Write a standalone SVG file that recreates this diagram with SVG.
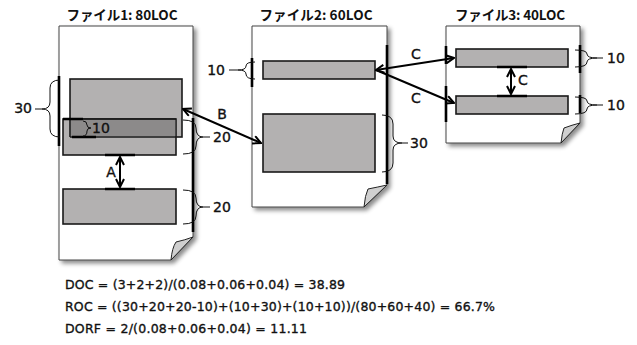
<svg xmlns="http://www.w3.org/2000/svg" width="637" height="345" viewBox="0 0 637 345">
<style>
.page{fill:#fff;stroke:#444;stroke-width:1}
.curl{fill:#cfcfcf;stroke:#222;stroke-width:1}
.blk{fill:#b3b1b1;stroke:#1a1a1a;stroke-width:1.6}
.ovl{fill:#8c8a8a;stroke:none}
.thick{stroke:#000;stroke-width:2.6;fill:none}
.brace{fill:none;stroke:#111;stroke-width:1}
.arr{stroke:#000;stroke-width:2;fill:none}
text{font-family:"DejaVu Sans","Noto Sans CJK JP",sans-serif;fill:#111;stroke:#111;stroke-width:0.35}
.title{font-family:"Noto Sans CJK JP","DejaVu Sans",sans-serif;font-size:13.5px;font-weight:bold;text-anchor:middle;stroke:none}
.lbl{font-size:14px}
.f{font-size:12.5px}
</style>
<defs>
<filter id="sh" x="-10%" y="-10%" width="130%" height="130%">
<feDropShadow dx="3" dy="3" stdDeviation="2" flood-color="#000" flood-opacity="0.45"/>
</filter>
<marker id="ah" viewBox="0 0 10 10" refX="9" refY="5" markerWidth="10" markerHeight="10" markerUnits="userSpaceOnUse" orient="auto-start-reverse">
<path d="M1,1 L9,5 L1,9" fill="none" stroke="#000" stroke-width="2"/>
</marker>
</defs>
<rect width="637" height="345" fill="#fff"/>

<g id="file1">
<text class="title" x="122" y="20" textLength="111">ファイル1: 80LOC</text>
<path class="page" filter="url(#sh)" d="M59,26 H193 V237 L171,260 H59 Z"/>
<path class="curl" d="M171,260 Q172,248 176,242 Q185,240 193,237 Z"/>
<rect class="blk" x="70" y="79" width="112" height="58"/>
<rect class="blk" x="63" y="119" width="113" height="36"/>
<rect class="ovl" x="70.8" y="119.8" width="104.4" height="16.4"/>
<path d="M70,119 V137 M63,119 H176 M70,137 H176" stroke="#1a1a1a" stroke-width="1.6" fill="none"/>
<rect class="blk" x="63" y="189" width="113" height="35"/>
<path class="thick" d="M59,76 V146 M193,118 V232 M63,119 H83 M72,137 H96 M105,155 H135 M105,189 H135"/>
<path class="brace" d="M60,80 Q50,80 50,88 V102 Q50,109 42,109 Q50,109 50,116 V129 Q50,137 60,137 M35,109 H42"/>
<text class="lbl" x="32" y="113" text-anchor="end">30</text>
<path class="brace" d="M83,121 Q87,121 87,125 Q87,128 91,128 Q87,128 87,131 Q87,136 83,136"/>
<text class="lbl" x="92" y="133">10</text>
<path class="brace" d="M183,120 Q196,120 196,128 Q196,137 203,137 Q196,137 196,146 Q196,154 183,154 M203,137 H210"/>
<text class="lbl" x="213" y="142">20</text>
<path class="brace" d="M183,190 Q196,190 196,198 Q196,207 203,207 Q196,207 196,216 Q196,224 183,224 M203,207 H210"/>
<text class="lbl" x="213" y="212">20</text>
</g>

<g id="file2">
<text class="title" x="316" y="20" textLength="113">ファイル2: 60LOC</text>
<path class="page" filter="url(#sh)" d="M252,26 H387 V185 L364,207 H252 Z"/>
<path class="curl" d="M364,207 Q365,195 368,189 Q378,187 387,185 Z"/>
<rect class="blk" x="263" y="61" width="112" height="18"/>
<rect class="blk" x="263" y="114" width="112" height="58"/>
<path class="thick" d="M252,58 V87 M387,45 V184"/>
<path class="brace" d="M255,62 Q246,62 246,66 Q246,70 238,70 Q246,70 246,74 Q246,79 255,79 M229,70 H238"/>
<text class="lbl" x="225" y="75" text-anchor="end">10</text>
<path class="brace" d="M382,115 Q393,115 393,124 V136 Q393,143 402,143 Q393,143 393,150 V163 Q393,172 382,172 M402,143 H408"/>
<text class="lbl" x="410" y="148">30</text>
</g>

<g id="file3">
<text class="title" x="510" y="20" textLength="110">ファイル3: 40LOC</text>
<path class="page" filter="url(#sh)" d="M446,26 H580 V123 L561,143 H446 Z"/>
<path class="curl" d="M561,143 Q562,133 564,128 Q572,125 580,123 Z"/>
<rect class="blk" x="456" y="49" width="112" height="18"/>
<rect class="blk" x="456" y="96" width="112" height="18"/>
<path class="thick" d="M446,46 V64 M446,86 V122 M580,45 V73 M580,95 V113 M497,67 H527 M497,96 H527"/>
<path class="brace" d="M575,50 Q587,50 587,54 Q587,58 597,58 Q587,58 587,62 Q587,67 575,67 M597,58 H603"/>
<text class="lbl" x="607" y="63">10</text>
<path class="brace" d="M575,97 Q587,97 587,101 Q587,105 597,105 Q587,105 587,109 Q587,114 575,114 M597,105 H603"/>
<text class="lbl" x="607" y="110">10</text>
</g>

<g id="connectors">
<line class="arr" x1="120" y1="157" x2="120" y2="187" marker-start="url(#ah)" marker-end="url(#ah)"/>
<text class="lbl" x="111" y="177" text-anchor="middle">A</text>
<line class="arr" x1="183" y1="109" x2="261" y2="143" marker-start="url(#ah)" marker-end="url(#ah)"/>
<text class="lbl" x="222" y="119" text-anchor="middle">B</text>
<line class="arr" x1="376" y1="70" x2="454" y2="58" marker-start="url(#ah)" marker-end="url(#ah)"/>
<line class="arr" x1="376" y1="70" x2="454" y2="103" marker-end="url(#ah)"/>
<text class="lbl" x="416" y="59" text-anchor="middle">C</text>
<text class="lbl" x="416" y="103" text-anchor="middle">C</text>
<line class="arr" x1="511" y1="69" x2="511" y2="94" marker-start="url(#ah)" marker-end="url(#ah)"/>
<text class="lbl" x="523" y="85" text-anchor="middle">C</text>
</g>

<g id="formulas">
<text class="f" x="65" y="289" textLength="280">DOC = (3+2+2)/(0.08+0.06+0.04) = 38.89</text>
<text class="f" x="65" y="311" textLength="430">ROC = ((30+20+20-10)+(10+30)+(10+10))/(80+60+40) = 66.7%</text>
<text class="f" x="65" y="333" textLength="242">DORF = 2/(0.08+0.06+0.04) = 11.11</text>
</g>
</svg>
